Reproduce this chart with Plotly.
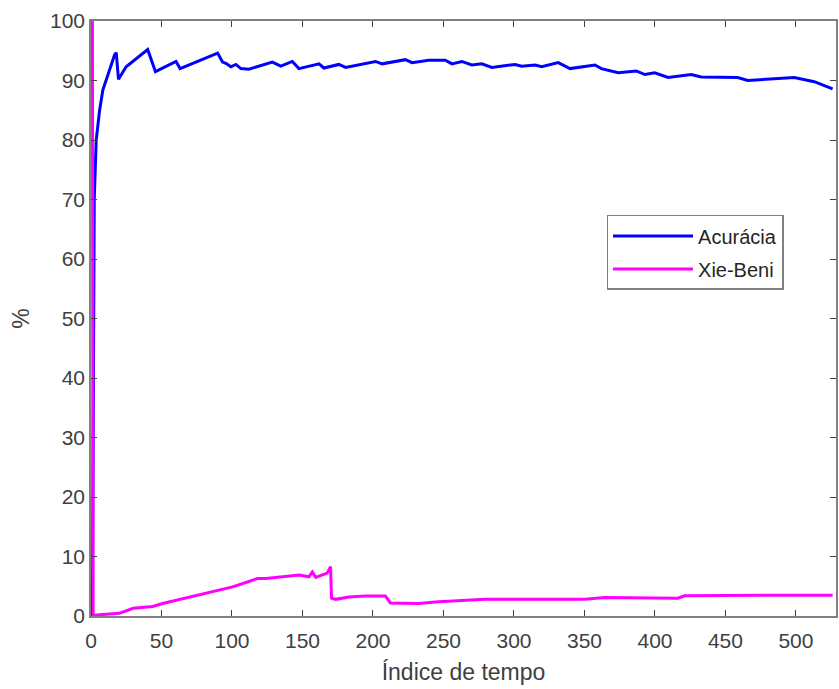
import plotly.graph_objects as go

# Acurácia (blue) keypoints
acc_x = [1, 2.3, 3.7, 6.1, 8.4, 13.2, 16.7, 17.9, 19.5, 24.9, 32, 40.2, 45.7, 60.3, 63.2,
         74.5, 89.8, 93.3, 95.7, 99.2, 102.8, 106.3, 112, 128.6, 134.6, 142.8, 147.5,
         161.7, 165.2, 175.8, 180.6, 201.8, 206.5, 223, 227.7, 239.5, 251.3, 256, 263,
         270.1, 277.2, 284.3, 300.8, 305.5, 315, 319.6, 331.4, 339.7, 357.4, 362, 373.9,
         386.8, 392.8, 399.8, 409.3, 425.7, 432.8, 458.7, 465.8, 498.8, 503.5, 513, 526]
acc_y = [0, 70, 80, 85, 88.4, 91.7, 94.3, 94.7, 90.2, 92.3, 93.7, 95.2, 91.5, 93.2, 92.0,
         93.1, 94.6, 93.1, 92.9, 92.3, 92.7, 92.0, 91.9, 93.1, 92.4, 93.2, 92.0,
         92.8, 92.1, 92.7, 92.2, 93.2, 92.8, 93.5, 93.0, 93.4, 93.4, 92.8, 93.2,
         92.6, 92.8, 92.2, 92.7, 92.4, 92.6, 92.3, 93.0, 92.0, 92.6, 92.0, 91.3,
         91.6, 91.0, 91.3, 90.5, 91.0, 90.6, 90.5, 90.0, 90.5, 90.3, 89.8, 88.6]

# Xie-Beni (magenta) keypoints
xb_x = [1, 1.5, 6, 20, 29.9, 43.8, 50.8, 76.8, 100.4, 112, 118, 124, 147.6, 154.6, 157,
        159.4, 167.5, 169.9, 170.6, 173.5, 182.9, 194.7, 208.8, 212.4, 232.4, 246.5,
        279.6, 350.3, 364.5, 416.3, 421, 480, 526]
xb_y = [100, 0.1, 0.2, 0.45, 1.3, 1.6, 2.1, 3.6, 4.9, 5.8, 6.3, 6.3, 6.9, 6.6, 7.4,
        6.5, 7.2, 8.3, 3.0, 2.8, 3.2, 3.35, 3.35, 2.2, 2.1, 2.4,
        2.8, 2.8, 3.1, 3.0, 3.4, 3.5, 3.5]

x_ticks = [0, 50, 100, 150, 200, 250, 300, 350, 400, 450, 500]
y_ticks = [0, 10, 20, 30, 40, 50, 60, 70, 80, 90, 100]

FONT = "Liberation Sans, Arial"

fig = go.Figure()
fig.add_trace(go.Scatter(x=acc_x, y=acc_y, mode="lines", name="Acurácia", legendgroup="a",
                         line=dict(color="#0000ff", width=3)))
fig.add_trace(go.Scatter(x=xb_x, y=xb_y, mode="lines", name="Xie-Beni", legendgroup="b",
                         line=dict(color="#ff00ff", width=3)))

axis_common = dict(showline=True, linecolor="#808080", linewidth=1.5, mirror="ticks",
                   ticks="inside", ticklen=6, tickcolor="#404040", tickwidth=1,
                   showgrid=False, zeroline=False,
                   tickfont=dict(family=FONT, size=21, color="#404040"))

fig.update_layout(
    width=839, height=689,
    margin=dict(l=91, r=1, t=21, b=73),
    paper_bgcolor="white", plot_bgcolor="white",
    showlegend=True,
    legend=dict(x=0.692, y=0.674, xanchor="left", yanchor="top",
                bgcolor="white", bordercolor="#808080", borderwidth=1.5,
                font=dict(family=FONT, size=20, color="#262626"),
                itemwidth=80, traceorder="grouped", tracegroupgap=4),
    xaxis=dict(range=[0, 528.4], tickvals=x_ticks, ticklabelstandoff=5,
               title=dict(text="Índice de tempo", standoff=13,
                          font=dict(family=FONT, size=23, color="#404040")),
               **axis_common),
    yaxis=dict(range=[0, 100], tickvals=y_ticks,
               title=dict(text="%", standoff=14,
                          font=dict(family=FONT, size=23, color="#404040")),
               **axis_common),
)

fig.write_html("out.html")
